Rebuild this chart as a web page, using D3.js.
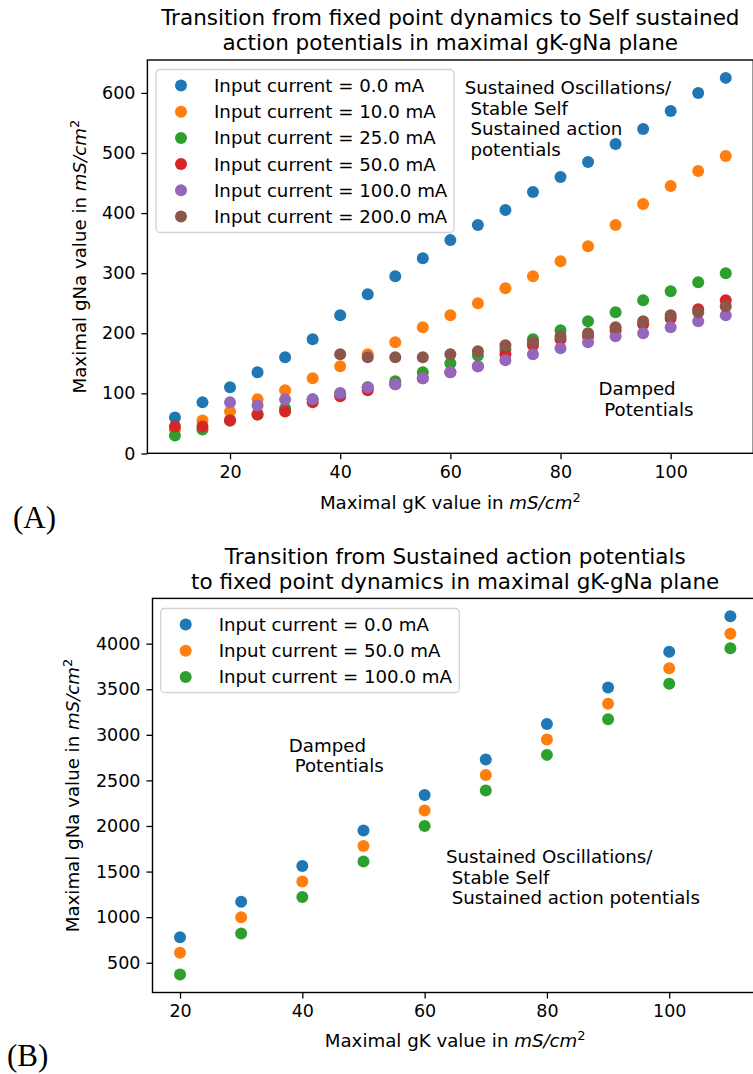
<!DOCTYPE html>
<html>
<head>
<meta charset="utf-8">
<script src="https://cdn.jsdelivr.net/npm/d3@7"></script>
<style>
  body { margin: 0; background: #fff; }
  svg text { fill: #000; }
  .pre { white-space: pre; }
</style>
</head>
<body>
<svg id="fig" width="753" height="1074" font-family="DejaVu Sans, sans-serif"></svg>
<script>
/* Two gK-gNa transition scatter panels, matplotlib look */

// --- Panel A data ---
const gkA = [10, 15, 20, 25, 30, 35, 40, 45, 50, 55, 60, 65, 70, 75, 80, 85, 90, 95, 100, 105, 110];
const currentsA = ["0.0", "10.0", "25.0", "50.0", "100.0", "200.0"];
const gnaA_0   = [60, 85, 110, 135, 160, 190, 230, 265, 295, 325, 355, 380, 405, 435, 460, 485, 515, 540, 570, 600, 625];
const gnaA_10  = [40, 55, 70, 90, 105, 125, 145, 165, 185, 210, 230, 250, 275, 295, 320, 345, 380, 415, 445, 470, 495];
const gnaA_25  = [30, 40, 55, 65, 75, 90, 100, 110, 120, 135, 150, 163, 173, 190, 205, 220, 235, 255, 270, 285, 300];
const gnaA_50  = [45, 45, 55, 65, 70, 85, 95, 105, 115, 125, 135, 145, 165, 180, 190, 195, 205, 215, 225, 240, 255];
const gnaA_100 = [null, null, 85, 80, 90, 90, 100, 110, 115, 125, 135, 145, 155, 165, 175, 185, 195, 200, 210, 220, 230];
const gnaA_200 = [null, null, null, null, null, null, 165, 160, 160, 160, 165, 170, 180, 185, 195, 200, 210, 220, 230, 235, 245];
const yTicksA = [0, 100, 200, 300, 400, 500, 600];

// --- Panel B data ---
const gkB = [20, 30, 40, 50, 60, 70, 80, 90, 100, 110];
const currentsB = ["0.0", "50.0", "100.0"];
const gnaB_0   = [780, 1170, 1560, 1950, 2340, 2730, 3120, 3520, 3910, 4300];
const gnaB_50  = [610, 1000, 1390, 1780, 2170, 2560, 2950, 3340, 3730, 4110];
const gnaB_100 = [370, 820, 1220, 1610, 2000, 2390, 2780, 3170, 3560, 3950];
const yTicksB = [500, 1000, 1500, 2000, 2500, 3000, 3500, 4000];

const xTicks = [20, 40, 60, 80, 100];
const colors = ["#1f77b4", "#ff7f0e", "#2ca02c", "#d62728", "#9467bd", "#8c564b"];

const svg = d3.select("#fig");
svg.append("rect").attr("width", 753).attr("height", 1074).attr("fill", "#fff");

const FS_TICK = 17.5;   // tick labels
const FS = 18.2;        // legend, labels, notes
const FS_TITLE = 21.5;

function drawPanel(p) {
  const g = svg.append("g");
  const x = d3.scaleLinear().domain(p.xDomain).range([p.left, p.right]);
  const y = d3.scaleLinear().domain(p.yDomain).range([p.bottom, p.top]);

  // --- scatter points, drawn series by series so later ones sit on top ---
  p.series.forEach((vals, i) => {
    const pts = p.gk.map((k, j) => ({ k, v: vals[j] })).filter(d => d.v != null);
    g.append("g").selectAll("circle")
      .data(pts)
      .join("circle")
      .attr("cx", d => x(d.k))
      .attr("cy", d => y(d.v))
      .attr("r", 6)
      .attr("fill", colors[i]);
  });

  // --- annotations (placed in data coords) ---
  p.notes.forEach(n => {
    const t = g.append("text").attr("font-size", FS).attr("class", "pre");
    n.lines.forEach((line, i) => {
      t.append("tspan")
        .attr("x", x(n.x))
        .attr("y", y(n.y) + i * 20.5)
        .text(line);
    });
  });

  // --- legend ---
  const lg = g.append("g");
  lg.append("rect")
    .attr("x", p.legend.x).attr("y", p.legend.y)
    .attr("width", p.legend.w).attr("height", p.legend.h)
    .attr("rx", 4)
    .attr("fill", "#fff").attr("fill-opacity", 0.8)
    .attr("stroke", "#d3d3d3").attr("stroke-width", 1.3);
  p.labels.forEach((lab, i) => {
    const cy = p.legend.y + 16 + i * 26.2;
    lg.append("circle")
      .attr("cx", p.legend.x + 25).attr("cy", cy)
      .attr("r", 6).attr("fill", colors[i]);
    lg.append("text")
      .attr("x", p.legend.x + 58).attr("y", cy)
      .attr("dy", "0.36em")
      .attr("font-size", FS)
      .text(`Input current = ${lab} mA`);
  });

  // --- axes ---
  const yAxis = g.append("g")
    .attr("transform", `translate(${p.left},0)`)
    .call(d3.axisLeft(y).tickValues(p.yTicks).tickSize(6).tickPadding(6).tickFormat(d3.format("d")));
  const xAxis = g.append("g")
    .attr("transform", `translate(0,${p.bottom})`)
    .call(d3.axisBottom(x).tickValues(xTicks).tickSize(6).tickPadding(6).tickFormat(d3.format("d")));
  [yAxis, xAxis].forEach(a => {
    a.attr("font-family", null).attr("font-size", null);
    a.select(".domain").remove();
    a.selectAll("line").attr("stroke", "#000").attr("stroke-width", 1.3);
    a.selectAll("text").attr("font-size", FS_TICK).attr("fill", "#000");
  });

  // spines
  g.append("rect")
    .attr("x", p.left).attr("y", p.top)
    .attr("width", p.right - p.left).attr("height", p.bottom - p.top)
    .attr("fill", "none").attr("stroke", "#000").attr("stroke-width", 1.4);

  // --- title ---
  const cx = (p.left + p.right) / 2;
  const title = g.append("text").attr("text-anchor", "middle").attr("font-size", FS_TITLE);
  p.title.forEach((line, i) => {
    title.append("tspan").attr("x", cx).attr("y", p.titleY + i * 24.5).text(line);
  });

  // --- axis labels ---
  const xl = g.append("text")
    .attr("x", cx).attr("y", p.xLabelY)
    .attr("text-anchor", "middle").attr("font-size", FS);
  xl.append("tspan").text("Maximal gK value in ");
  xl.append("tspan").attr("font-style", "italic").text("mS/cm");
  xl.append("tspan").attr("dy", -7).attr("font-size", 13).text("2");

  const yl = g.append("text")
    .attr("transform", `translate(${p.yLabelX},${(p.top + p.bottom) / 2}) rotate(-90)`)
    .attr("text-anchor", "middle").attr("font-size", FS);
  yl.append("tspan").text("Maximal gNa value in ");
  yl.append("tspan").attr("font-style", "italic").text("mS/cm");
  yl.append("tspan").attr("dy", -7).attr("font-size", 13).text("2");

  // panel letter
  g.append("text")
    .attr("x", p.tag.x).attr("y", p.tag.y)
    .attr("font-family", "Liberation Serif, Times New Roman, serif")
    .attr("font-size", 31)
    .text(p.tag.text);
}

drawPanel({
  gk: gkA,
  series: [gnaA_0, gnaA_10, gnaA_25, gnaA_50, gnaA_100, gnaA_200],
  labels: currentsA,
  xDomain: [5, 115], yDomain: [0.25, 654.75],
  left: 147.4, right: 753.3, top: 60, bottom: 453.3,
  yTicks: yTicksA,
  legend: { x: 156, y: 69.5, w: 298, h: 163 },
  notes: [
    { x: 62.6, y: 598, lines: ["Sustained Oscillations/", " Stable Self", " Sustained action", " potentials"] },
    { x: 86.9, y: 96.5, lines: ["Damped", " Potentials"] }
  ],
  title: ["Transition from fixed point dynamics to Self sustained", "action potentials in maximal gK-gNa plane"],
  titleY: 25,
  xLabelY: 509,
  yLabelX: 86,
  tag: { x: 13, y: 528, text: "(A)" }
});

drawPanel({
  gk: gkB,
  series: [gnaB_0, gnaB_50, gnaB_100],
  labels: currentsB,
  xDomain: [15.5, 114.5], yDomain: [173.5, 4496.5],
  left: 152.5, right: 757.9, top: 598.4, bottom: 992.5,
  yTicks: yTicksB,
  legend: { x: 160.7, y: 608.5, w: 298.6, h: 84 },
  notes: [
    { x: 37.8, y: 2812, lines: ["Damped", " Potentials"] },
    { x: 63.5, y: 1594, lines: ["Sustained Oscillations/", " Stable Self", " Sustained action potentials"] }
  ],
  title: ["Transition from Sustained action potentials", "to fixed point dynamics in maximal gK-gNa plane"],
  titleY: 564,
  xLabelY: 1047,
  yLabelX: 79,
  tag: { x: 7, y: 1066, text: "(B)" }
});
</script>
</body>
</html>
